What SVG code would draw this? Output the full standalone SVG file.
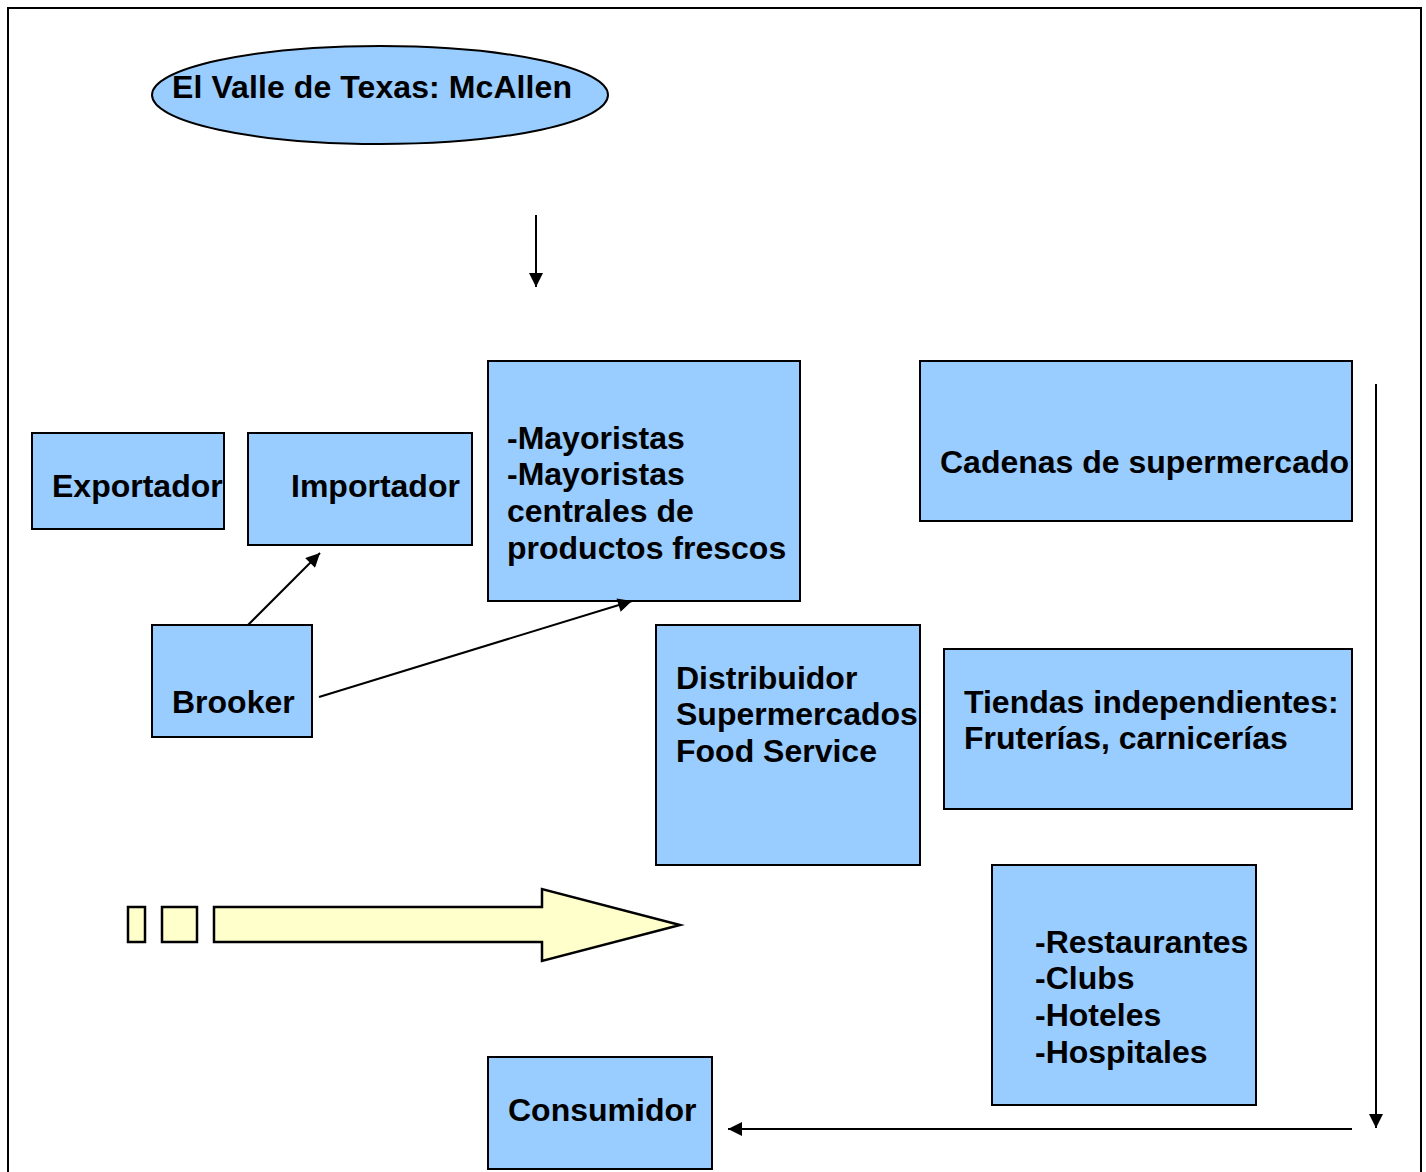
<svg xmlns="http://www.w3.org/2000/svg" width="1426" height="1172" viewBox="0 0 1426 1172">
<defs>
<style>
.box{fill:#99CCFF;stroke:#000;stroke-width:2}
.t{font-family:"Liberation Sans",Arial,sans-serif;font-weight:bold;font-size:32px;fill:#000}
.ln{stroke:#000;stroke-width:2;fill:none}
.y{fill:#FFFFCC;stroke:#000;stroke-width:2.5;stroke-linejoin:miter}
</style>
<marker id="ah" viewBox="0 0 10 10" refX="10" refY="5" markerWidth="7.5" markerHeight="7" markerUnits="strokeWidth" orient="auto">
<path d="M0,0 L10,5 L0,10 z" fill="#000"/>
</marker>
</defs>
<rect width="1426" height="1172" fill="#fff"/>
<rect x="8" y="8" width="1413" height="1200" fill="none" stroke="#000" stroke-width="2"/>

<g id="valle">
<ellipse cx="380" cy="95" rx="228" ry="49" class="box"/>
<text class="t" x="172" y="98" textLength="400">El Valle de Texas: McAllen</text>
</g>
<g id="exportador">
<rect x="32" y="433" width="192" height="96" class="box"/>
<text class="t" x="52" y="497">Exportador</text>
</g>
<g id="importador">
<rect x="248" y="433" width="224" height="112" class="box"/>
<text class="t" x="291" y="497">Importador</text>
</g>
<g id="mayoristas">
<rect x="488" y="361" width="312" height="240" class="box"/>
<text class="t" x="507" y="449">-Mayoristas</text>
<text class="t" x="507" y="485">-Mayoristas</text>
<text class="t" x="507" y="522">centrales de</text>
<text class="t" x="507" y="559">productos frescos</text>
</g>
<g id="cadenas">
<rect x="920" y="361" width="432" height="160" class="box"/>
<text class="t" x="940" y="473">Cadenas de supermercado</text>
</g>
<g id="brooker">
<rect x="152" y="625" width="160" height="112" class="box"/>
<text class="t" x="172" y="713">Brooker</text>
</g>
<g id="distribuidor">
<rect x="656" y="625" width="264" height="240" class="box"/>
<text class="t" x="676" y="689">Distribuidor</text>
<text class="t" x="676" y="725">Supermercados</text>
<text class="t" x="676" y="762">Food Service</text>
</g>
<g id="tiendas">
<rect x="944" y="649" width="408" height="160" class="box"/>
<text class="t" x="964" y="713">Tiendas independientes:</text>
<text class="t" x="964" y="749">Fruterías, carnicerías</text>
</g>
<g id="restaurantes">
<rect x="992" y="865" width="264" height="240" class="box"/>
<text class="t" x="1035" y="953">-Restaurantes</text>
<text class="t" x="1035" y="989">-Clubs</text>
<text class="t" x="1035" y="1026">-Hoteles</text>
<text class="t" x="1035" y="1063">-Hospitales</text>
</g>
<g id="consumidor">
<rect x="488" y="1057" width="224" height="112" class="box"/>
<text class="t" x="508" y="1121">Consumidor</text>
</g>
<g id="flecha">
<rect x="128" y="907" width="17" height="35" class="y"/>
<rect x="162" y="907" width="35" height="35" class="y"/>
<path d="M214,907 H542 V889 L680,925 L542,961 V942 H214 Z" class="y"/>
</g>

<g id="connectors">
<line x1="536" y1="215" x2="536" y2="287" class="ln" marker-end="url(#ah)"/>
<line x1="248" y1="625" x2="320" y2="553" class="ln" marker-end="url(#ah)"/>
<line x1="319" y1="697" x2="632" y2="601" class="ln" marker-end="url(#ah)"/>
<line x1="1376" y1="384" x2="1376" y2="1128" class="ln" marker-end="url(#ah)"/>
<line x1="1352" y1="1129" x2="728" y2="1129" class="ln" marker-end="url(#ah)"/>
</g>
</svg>
